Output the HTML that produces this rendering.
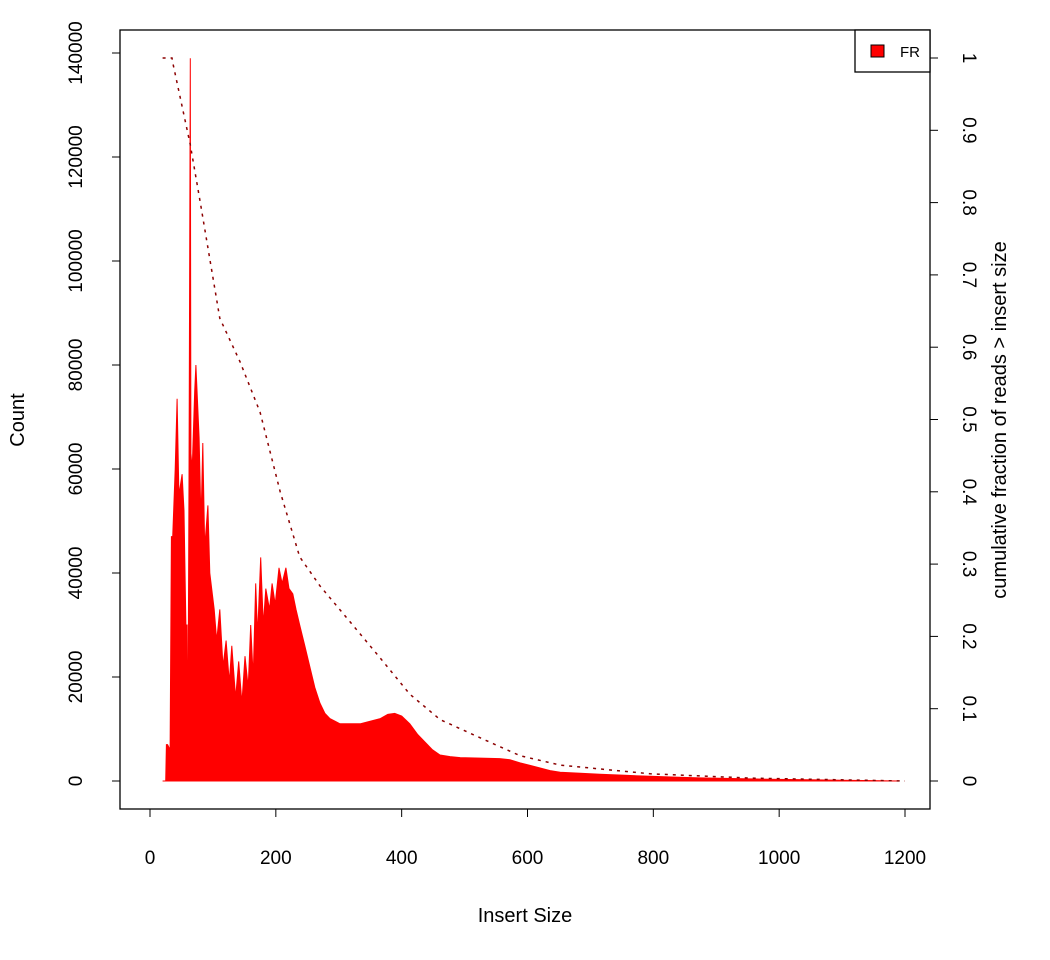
<!DOCTYPE html>
<html><head><meta charset="utf-8"><style>
body{margin:0;background:#fff;}
svg{display:block;font-family:"Liberation Sans",Arial,sans-serif;}
</style></head><body>
<svg id="chart" width="1050" height="960" viewBox="0 0 1050 960">
<rect x="120" y="30" width="810" height="779" fill="none" stroke="#000" stroke-width="1.3"/>
<g id="marks"></g>
<g id="axes"></g>
<text x="525" y="922" font-size="20" text-anchor="middle">Insert Size</text>
<text transform="translate(24,420) rotate(-90)" font-size="20" text-anchor="middle">Count</text>
<text transform="translate(1006,420) rotate(-90)" font-size="20" text-anchor="middle">cumulative fraction of reads &gt; insert size</text>
<g>
<rect x="855" y="30" width="75" height="42" fill="#fff" stroke="#000" stroke-width="1.3"/>
<rect x="871" y="45" width="13" height="12" fill="#ff0000" stroke="#000" stroke-width="1"/>
<text x="900" y="57" font-size="15">FR</text>
</g>
</svg>
<script>
const sizes=[20,25,26,28,32,34,36,40,43,46,51,54,57,59,60,61,62,64,65,67,71,73,78,81,84,87,92,95,102,106,111,116,121,126,130,136,141,146,151,156,160,164,168,171,176,180,184,190,194,199,205,210,216,221,227,232,238,246,254,262,270,278,286,294,302,318,334,350,366,378,389,400,413,425,437,449,461,477,493,525,556,572,588,604,620,636,652,684,715,755,795,834,874,914,954,1000,1050,1100,1150,1190];
const counts=[0,0,7000,7000,6000,47000,47000,60000,73500,55000,59000,52000,30000,30000,0,30000,58000,139000,63000,60000,75000,80000,66000,50000,65000,45000,53000,40000,33000,27000,33000,22000,27000,19000,26000,16000,23000,15000,24000,18000,30000,20000,38000,28000,43000,30000,37000,33000,38000,34000,41000,38000,41000,37000,36000,33000,30000,26000,22000,18000,15000,13000,12000,11500,11000,11000,11000,11500,12000,12800,13000,12500,11000,9000,7500,6000,5000,4700,4500,4400,4300,4100,3500,3000,2500,2000,1700,1500,1300,1100,900,750,600,500,400,300,230,150,80,0];
const cumSizes=[20,35,37,64,80,111,143,175,207,238,270,318,366,413,461,524,588,652,795,954,1200];
const cumFrac=[1,1,0.99,0.88,0.80,0.64,0.58,0.51,0.40,0.31,0.27,0.22,0.17,0.12,0.085,0.06,0.035,0.022,0.01,0.004,0];
const xTicks=[0,200,400,600,800,1000,1200];
const yTicks=[0,20000,40000,60000,80000,100000,120000,140000];
const rTicks=[0,0.1,0.2,0.3,0.4,0.5,0.6,0.7,0.8,0.9,1];
const rLabels=["0","0.1","0.2","0.3","0.4","0.5","0.6","0.7","0.8","0.9","1"];
const X=v=>150+v*755/1200;
const Y=v=>781-v*104/20000;
const R=v=>781-v*723;
const NS="http://www.w3.org/2000/svg";
const marks=document.getElementById('marks'),axes=document.getElementById('axes');
function mk(t,p,a){const e=document.createElementNS(NS,t);for(const k in a)e.setAttribute(k,a[k]);p.appendChild(e);return e;}
let d='M'+X(sizes[0])+' '+Y(0);
for(let i=0;i<sizes.length;i++)d+=' L'+X(sizes[i]).toFixed(1)+' '+Y(counts[i]).toFixed(1);
d+=' L'+X(sizes[sizes.length-1])+' '+Y(0)+' Z';
const area=mk('path',marks,{d:d,fill:'#ff0000',stroke:'#ff0000','stroke-width':1});


const pts=cumSizes.map((s,i)=>X(s).toFixed(1)+','+R(cumFrac[i]).toFixed(1)).join(' ');
const cl=mk('polyline',marks,{points:pts,fill:'none',stroke:'#8b0000','stroke-width':1.5,'stroke-dasharray':'3 5'});


mk('line',axes,{x1:X(0),x2:X(1200),y1:809,y2:809,stroke:'#000'});
xTicks.forEach(t=>{
mk('line',axes,{x1:X(t),x2:X(t),y1:809,y2:817,stroke:'#000'});
const tx=mk('text',axes,{x:X(t),y:864,'font-size':19,'text-anchor':'middle'});tx.textContent=t;


});
yTicks.forEach(t=>{
mk('line',axes,{x1:112,x2:120,y1:Y(t),y2:Y(t),stroke:'#000'});
const tx=mk('text',axes,{transform:`translate(82,${Y(t)}) rotate(-90)`,'font-size':19,'text-anchor':'middle'});tx.textContent=t;


});
rTicks.forEach((t,i)=>{
mk('line',axes,{x1:930,x2:938,y1:R(t),y2:R(t),stroke:'#000'});
const tx=mk('text',axes,{transform:`translate(963,${R(t)}) rotate(90)`,'font-size':19,'text-anchor':'middle'});tx.textContent=rLabels[i];


});
</script>
</body></html>
